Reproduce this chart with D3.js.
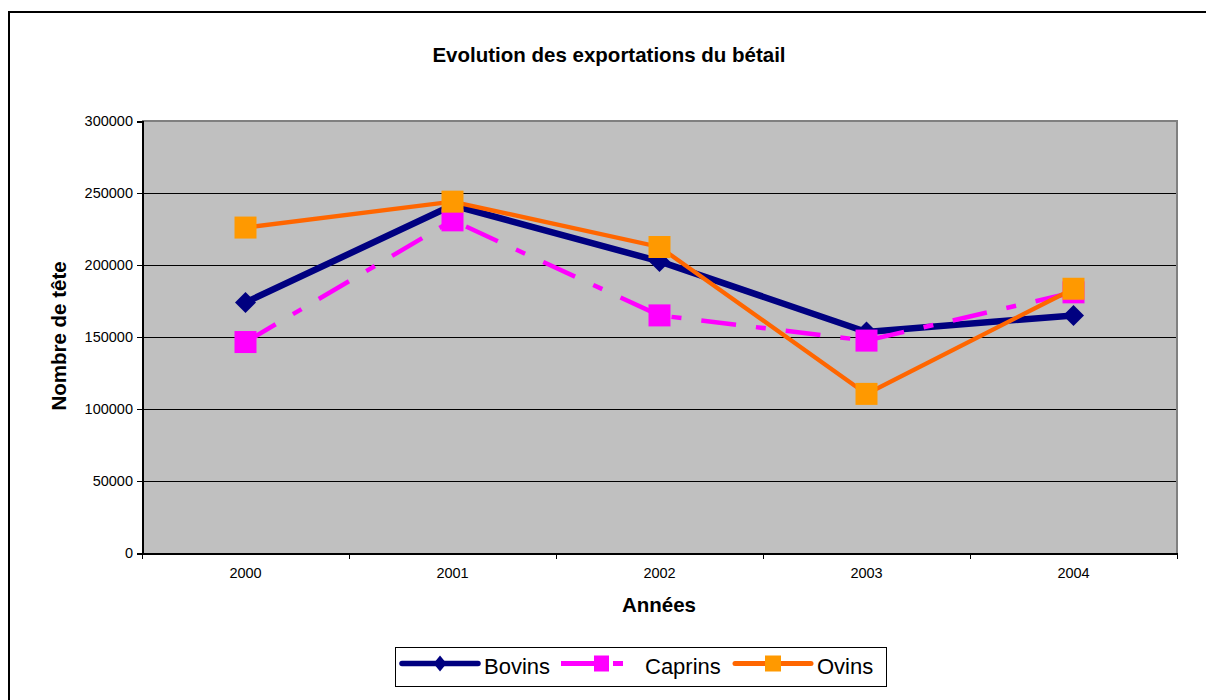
<!DOCTYPE html>
<html>
<head>
<meta charset="utf-8">
<script src="https://cdn.jsdelivr.net/npm/d3@7"></script>
<style>
	body { margin: 0; background: #fff; }
	text { font-family: "Liberation Sans", Arial, sans-serif; fill: #000; }
	.crisp line, .crisp path, line.crisp { shape-rendering: crispEdges; }
</style>
</head>
<body>
<script>
// chart data
var years = ["2000", "2001", "2002", "2003", "2004"];
var bovins = [174000, 241500, 202500, 153500, 165000];
var caprins = [146500, 231000, 165000, 147500, 181000];
var ovins = [226000, 244000, 212500, 110500, 183500];
var yTicks = [0, 50000, 100000, 150000, 200000, 250000, 300000];
var seriesNames = ["Bovins", "Caprins", "Ovins"];

var width = 1206,
	height = 700,
	plotLeft = 142,
	plotRight = 1177,
	plotTop = 121,
	plotBottom = 553;

var svg = d3.select("body")
	.append("svg")
	.attr("width", width)
	.attr("height", height);

// outer frame (runs off the page on the right and bottom)
svg.append("rect")
	.attr("x", 9)
	.attr("y", 12)
	.attr("width", 1220)
	.attr("height", 720)
	.attr("fill", "#fff")
	.attr("stroke", "#000")
	.attr("stroke-width", 2);

var x = d3.scaleBand()
	.domain(years)
	.range([plotLeft, plotRight]);

var y = d3.scaleLinear()
	.domain([0, 300000])
	.range([plotBottom, plotTop]);

function cx(d, i) { return x(years[i]) + x.bandwidth() / 2; }

// plot area
svg.append("rect")
	.attr("x", plotLeft)
	.attr("y", plotTop)
	.attr("width", plotRight - plotLeft)
	.attr("height", plotBottom - plotTop)
	.attr("fill", "#c0c0c0");

// gridlines
svg.append("g")
	.attr("class", "crisp")
	.selectAll("line")
	.data(yTicks.filter(function(d) { return d > 0 && d < 300000; }))
	.enter().append("line")
	.attr("x1", plotLeft)
	.attr("x2", plotRight)
	.attr("y1", function(d) { return Math.round(y(d)) + 0.5; })
	.attr("y2", function(d) { return Math.round(y(d)) + 0.5; })
	.attr("stroke", "#000")
	.attr("stroke-width", 1);

// gray border top and right
svg.append("path")
	.attr("d", "M" + plotLeft + "," + plotTop + "H" + plotRight + "V" + plotBottom)
	.attr("fill", "none")
	.attr("stroke", "#808080")
	.attr("stroke-width", 2);

// y axis
var yAxis = svg.append("g")
	.attr("class", "crisp")
	.attr("transform", "translate(" + plotLeft + ",0)")
	.call(d3.axisLeft(y).tickValues(yTicks).tickSize(5).tickPadding(4).tickFormat(d3.format("d")));
yAxis.select(".domain").attr("stroke", "#000").attr("stroke-width", 2);
yAxis.selectAll(".tick line").attr("stroke", "#000");
yAxis.selectAll("text").style("font-size", "14.5px").style("font-family", "Liberation Sans, Arial, sans-serif");

// x axis
var xAxis = svg.append("g")
	.attr("class", "crisp")
	.attr("transform", "translate(0," + plotBottom + ")")
	.call(d3.axisBottom(x).tickSize(0).tickPadding(15));
xAxis.select(".domain").attr("stroke", "#000").attr("stroke-width", 2);
xAxis.selectAll("text").style("font-size", "14.5px").style("font-family", "Liberation Sans, Arial, sans-serif");

xAxis.selectAll(".bound")
	.data(years.concat(["end"]))
	.enter().append("line")
	.attr("class", "bound")
	.attr("x1", function(d, i) { return plotLeft + i * x.step(); })
	.attr("x2", function(d, i) { return plotLeft + i * x.step(); })
	.attr("y1", 0)
	.attr("y2", 6)
	.attr("stroke", "#000");

// titles
svg.append("text")
	.attr("x", 609)
	.attr("y", 62)
	.attr("text-anchor", "middle")
	.attr("font-weight", "bold")
	.attr("font-size", "20.5px")
	.text("Evolution des exportations du bétail");

svg.append("text")
	.attr("x", 659)
	.attr("y", 612)
	.attr("text-anchor", "middle")
	.attr("font-weight", "bold")
	.attr("font-size", "20.5px")
	.text("Années");

svg.append("text")
	.attr("transform", "translate(66,336) rotate(-90)")
	.attr("text-anchor", "middle")
	.attr("font-weight", "bold")
	.attr("font-size", "20.5px")
	.text("Nombre de tête");

// lines
var line = d3.line()
	.x(cx)
	.y(function(d) { return y(d); });

function diamond(r) {
	return "M0," + (-r) + "L" + r + ",0L0," + r + "L" + (-r) + ",0Z";
}

// Bovins
svg.append("path")
	.datum(bovins)
	.attr("d", line)
	.attr("fill", "none")
	.attr("stroke", "#000080")
	.attr("stroke-width", 6.5)
	.attr("stroke-linejoin", "round");
svg.append("g").selectAll("path")
	.data(bovins)
	.enter().append("path")
	.attr("transform", function(d, i) { return "translate(" + cx(d, i) + "," + y(d) + ")"; })
	.attr("d", diamond(10.5))
	.attr("fill", "#000080");

// Caprins
svg.append("path")
	.datum(caprins)
	.attr("d", line)
	.attr("fill", "none")
	.attr("stroke", "#ff00ff")
	.attr("stroke-width", 4.5)
	.attr("stroke-dasharray", "35,20,10,20");
svg.append("g").selectAll("rect")
	.data(caprins)
	.enter().append("rect")
	.attr("x", function(d, i) { return cx(d, i) - 11; })
	.attr("y", function(d) { return y(d) - 11; })
	.attr("width", 22)
	.attr("height", 22)
	.attr("fill", "#ff00ff");

// Ovins
svg.append("path")
	.datum(ovins)
	.attr("d", line)
	.attr("fill", "none")
	.attr("stroke", "#ff6600")
	.attr("stroke-width", 4.3);
svg.append("g").selectAll("rect")
	.data(ovins)
	.enter().append("rect")
	.attr("x", function(d, i) { return cx(d, i) - 11; })
	.attr("y", function(d) { return y(d) - 11; })
	.attr("width", 22)
	.attr("height", 22)
	.attr("fill", "#ff9900");

// legend
var legend = svg.append("g");
legend.append("rect")
	.attr("x", 395.5)
	.attr("y", 647.5)
	.attr("width", 491)
	.attr("height", 39)
	.attr("fill", "#fff")
	.attr("stroke", "#000")
	.attr("stroke-width", 1);

var ly = 663.5;
// Bovins entry
legend.append("line")
	.attr("x1", 402).attr("x2", 478)
	.attr("y1", ly).attr("y2", ly)
	.attr("stroke", "#000080").attr("stroke-width", 5.5)
	.attr("stroke-linecap", "round");
legend.append("path")
	.attr("transform", "translate(440," + ly + ")")
	.attr("d", "M0,-8L6.5,0L0,8L-6.5,0Z")
	.attr("fill", "#000080");
// Caprins entry
legend.append("line")
	.attr("x1", 561).attr("x2", 623)
	.attr("y1", ly).attr("y2", ly)
	.attr("stroke", "#ff00ff").attr("stroke-width", 5)
	.attr("stroke-dasharray", "35,17,10,20");
legend.append("rect")
	.attr("x", 594).attr("y", ly - 8)
	.attr("width", 15).attr("height", 16)
	.attr("fill", "#ff00ff");
// Ovins entry
legend.append("line")
	.attr("x1", 735).attr("x2", 811)
	.attr("y1", ly).attr("y2", ly)
	.attr("stroke", "#ff6600").attr("stroke-width", 5)
	.attr("stroke-linecap", "round");
legend.append("rect")
	.attr("x", 765).attr("y", ly - 8)
	.attr("width", 16).attr("height", 16)
	.attr("fill", "#ff9900");

legend.selectAll(".ltext")
	.data(seriesNames)
	.enter().append("text")
	.attr("class", "ltext")
	.attr("x", function(d, i) { return [484, 645, 817][i]; })
	.attr("y", 674)
	.attr("font-size", "22px")
	.text(function(d) { return d; });
</script>
</body>
</html>
